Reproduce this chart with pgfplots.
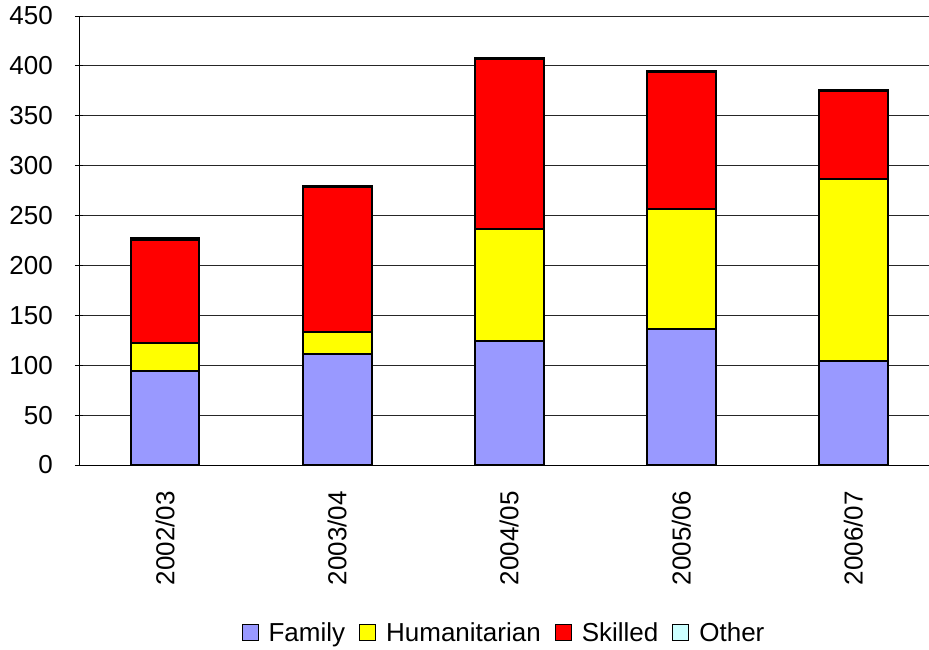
\documentclass[border=0pt]{standalone}
\usepackage{pgfplots}
\pgfplotsset{compat=1.18}
\usepackage{fontspec}
\setmainfont{Liberation Sans}

\definecolor{family}{HTML}{9999FF}
\definecolor{human}{HTML}{FFFF00}
\definecolor{skilled}{HTML}{FF0000}
\definecolor{other}{HTML}{CCFFFF}

\begin{document}
\begin{tikzpicture}
\begin{axis}[
  at={(79pt,184pt)}, anchor=south west,
  scale only axis, width=850pt, height=449pt,
  ybar stacked, bar width=0.4,
  xmin=-0.5, xmax=4.44,
  ymin=0, ymax=450, ytick={0,50,...,450},
  xtick={0,1,2,3,4},
  xticklabels={2002/03,2003/04,2004/05,2005/06,2006/07},
  minor xtick={-0.5,0.5,1.5,2.5,3.5,4.5},
  xtick style={draw=none},
  minor tick length=8pt, major tick length=8pt,
  tick align=outside,
  axis x line=bottom, axis y line=left,
  axis line style={-, line width=1pt},
  tick style={black, line width=0.8pt},
  ymajorgrids, grid style={black!85, line width=0.8pt},
  tick label style={font=\fontsize{26}{30}\selectfont},
  /pgf/number format/assume math mode=true,
  yticklabel style={anchor=east, inner xsep=22pt},
  xticklabel style={rotate=90, anchor=east, inner xsep=22pt},
  legend style={at={(0.5,-0.374)}, anchor=center, draw=none,
    font=\fontsize{26}{30}\selectfont, legend columns=4,
    /tikz/every odd column/.append style={column sep=8pt},
    /tikz/every even column/.append style={column sep=12pt}},
  legend image code/.code={\draw[#1, line width=1pt] (0pt,-8pt) rectangle (16pt,8pt);},
]
\addplot[fill=family, draw=black, line width=2pt] coordinates {(0,94) (1,111) (2,124) (3,136) (4,104)};
\addplot[fill=human, draw=black, line width=2pt] coordinates {(0,28) (1,22.5) (2,113) (3,121) (4,183)};
\addplot[fill=skilled, draw=black, line width=2pt] coordinates {(0,104) (1,145.5) (2,170) (3,137) (4,88)};
\addplot[fill=other, draw=black, line width=2pt] coordinates {(0,2) (1,1) (2,1) (3,1) (4,1)};
\legend{Family, Humanitarian, Skilled, Other}
\end{axis}
\pgfresetboundingbox
\path (0,0) rectangle (929pt,649pt);
\end{tikzpicture}
\end{document}
